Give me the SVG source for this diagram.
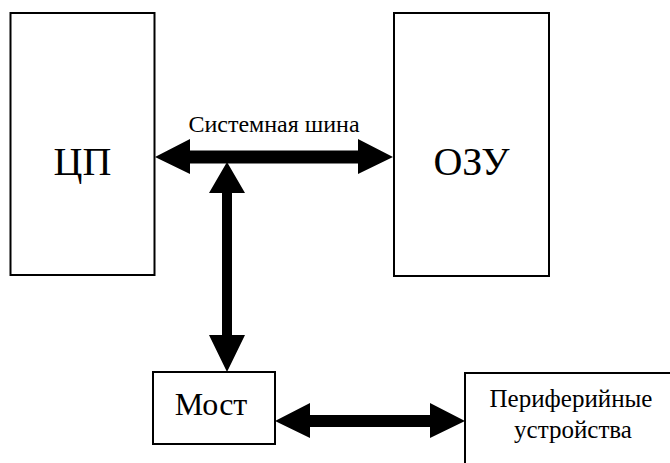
<svg xmlns="http://www.w3.org/2000/svg" width="670" height="463" viewBox="0 0 670 463">
<style>
.box{fill:#fff;stroke:#000;stroke-width:2}
.arr{fill:#000;stroke:none}
</style>
<rect width="670" height="463" fill="#fff"/>
<g font-family="Liberation Serif, Times New Roman, serif" text-anchor="middle" fill="#000">
<g id="cpu"><rect class="box" x="10.5" y="13" width="144" height="262"/><text x="82.5" y="175" font-size="40">ЦП</text></g>
<g id="ram"><rect class="box" x="394" y="13" width="155" height="263"/><text x="471.5" y="175" font-size="40">ОЗУ</text></g>
<g id="bridge"><rect class="box" x="153" y="372" width="122" height="72"/><text x="211" y="415" font-size="32">Мост</text></g>
<g id="periph"><rect class="box" x="465" y="373" width="230" height="120"/><text x="571" y="407" font-size="25">Периферийные</text><text x="573" y="438" font-size="25">устройства</text></g>
<g id="bus-label"><text x="274" y="132" font-size="24">Системная шина</text></g>
</g>
<g id="connectors">
<polygon class="arr" points="155,157 190,139 190,150.5 358,150.5 358,139 393,157 358,174 358,163.5 190,163.5 190,174"/>
<polygon class="arr" points="227,162 245,193 232,193 232,335 245,335 227,372 209,335 222,335 222,193 209,193"/>
<polygon class="arr" points="275,421 310,403 310,415 430,415 430,403 465,421 430,438 430,427 310,427 310,438"/>
</g>
</svg>
